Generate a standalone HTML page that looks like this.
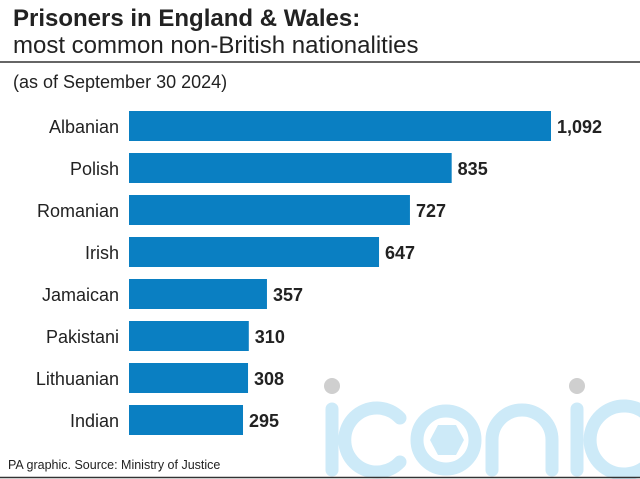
<!DOCTYPE html>
<html><head><meta charset="utf-8"><style>
body{margin:0;background:#fff;font-family:"Liberation Sans",sans-serif;}
#wrap{position:relative;width:640px;height:479px;overflow:hidden;background:#fff;}
</style></head><body>
<div id="wrap">
<svg width="640" height="479" xmlns="http://www.w3.org/2000/svg" font-family="Liberation Sans, sans-serif">
  <text x="13" y="26" font-size="24" font-weight="bold" fill="#222">Prisoners in England &amp; Wales:</text>
  <text x="13" y="53" font-size="24" fill="#222">most common non-British nationalities</text>
  <line x1="0" y1="62" x2="640" y2="62" stroke="#333" stroke-width="1.5"/>
  <text x="13" y="88" font-size="18" fill="#222">(as of September 30 2024)</text>
  <g>
    <circle cx="332" cy="386" r="8" fill="#cfcfcf"/>
    <line x1="332" y1="409" x2="332" y2="470" stroke="#cdeaf8" stroke-width="13" stroke-linecap="round"/>
    <path d="M400 418 A32 32 0 1 0 400 462" fill="none" stroke="#cdeaf8" stroke-width="13" stroke-linecap="round"/>
    <circle cx="446" cy="440" r="29" fill="none" stroke="#cdeaf8" stroke-width="13"/>
    <polygon points="438,425 456,425 464,440 456,455 438,455 430,440" fill="#cdeaf8"/>
    <path d="M492 470 V440 A30 30 0 0 1 552 440 V470" fill="none" stroke="#cdeaf8" stroke-width="13" stroke-linecap="round"/>
    <circle cx="577" cy="386" r="8" fill="#cfcfcf"/>
    <line x1="577" y1="409" x2="577" y2="470" stroke="#cdeaf8" stroke-width="13" stroke-linecap="round"/>
    <path d="M650 418 A34 34 0 1 0 650 462" fill="none" stroke="#cdeaf8" stroke-width="13"/>
  </g>
  <g id="bars"></g>
  <text x="8" y="469" font-size="12.5" fill="#222">PA graphic. Source: Ministry of Justice</text>
  <line x1="0" y1="477.5" x2="640" y2="477.5" stroke="#333" stroke-width="1.5"/>
</svg>
</div>
<script>
const categories = ["Albanian","Polish","Romanian","Irish","Jamaican","Pakistani","Lithuanian","Indian"];
const values = [1092,835,727,647,357,310,308,295];
const valueLabels = ["1,092","835","727","647","357","310","308","295"];
const NS = "http://www.w3.org/2000/svg";
const x0 = 129, pxPerUnit = 422/1092;
const xScale = v => x0 + v*pxPerUnit;
const yScale = i => 111 + i*42;
const g = document.getElementById('bars');
categories.forEach((c,i)=>{
  const y = yScale(i);
  const r = document.createElementNS(NS,'rect');
  r.setAttribute('x',x0); r.setAttribute('y',y);
  r.setAttribute('width',xScale(values[i])-x0); r.setAttribute('height',30);
  r.setAttribute('fill','#0a7fc2');
  
  
  g.appendChild(r);
  const l = document.createElementNS(NS,'text');
  l.setAttribute('x',119); l.setAttribute('y',y+22);
  l.setAttribute('text-anchor','end'); l.setAttribute('font-size','18'); l.setAttribute('fill','#222');
  l.textContent = c;
  
  
  g.appendChild(l);
  const v = document.createElementNS(NS,'text');
  v.setAttribute('x',xScale(values[i])+6); v.setAttribute('y',y+22);
  v.setAttribute('font-size','18'); v.setAttribute('font-weight','bold'); v.setAttribute('fill','#222');
  v.textContent = valueLabels[i];
  
  
  g.appendChild(v);
});
</script>
</body></html>
